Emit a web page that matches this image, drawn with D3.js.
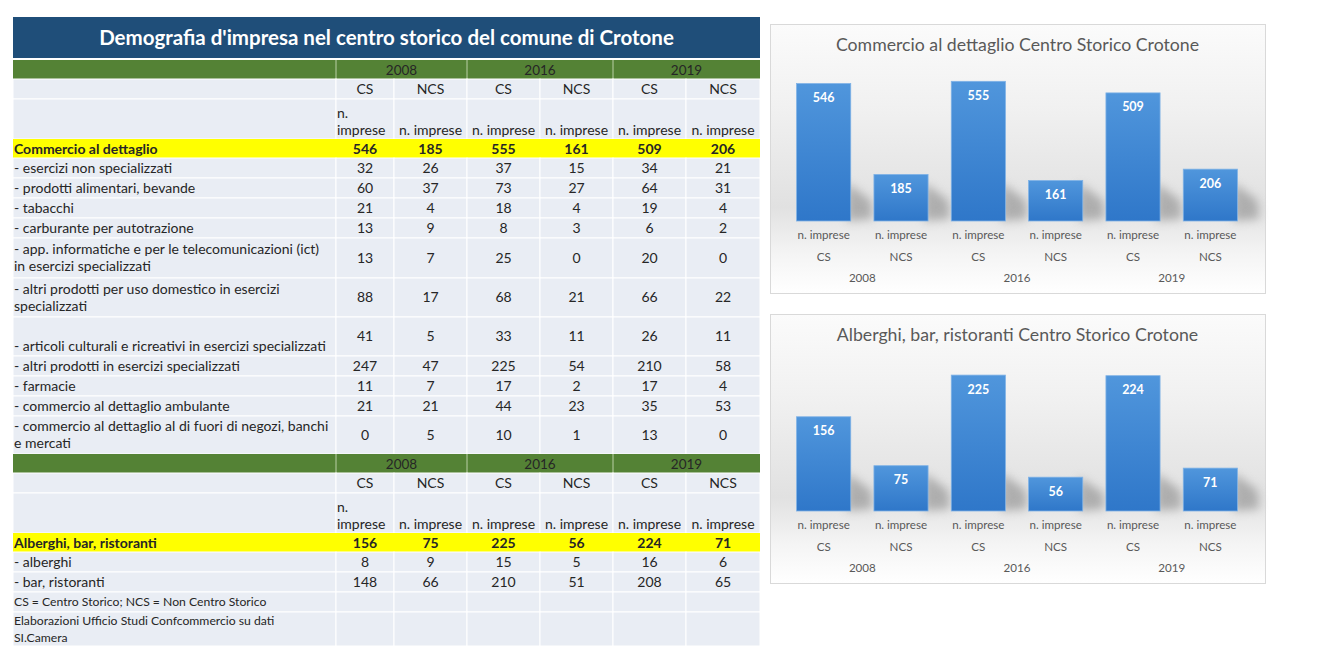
<!DOCTYPE html>
<html>
<head>
  <meta charset="utf-8">
  <title>Demografia d'impresa - Crotone</title>
  <script src="https://cdn.jsdelivr.net/npm/d3@7"></script>
  <style>
    body {margin: 0; background: #fff;}
    svg  {font-family: Lato, "DejaVu Sans", sans-serif; display: block;}
  </style>
</head>
<body>
  <svg width="1317" height="671"></svg>

  <script>
    // ---- data ----
    const years = ["2008", "2016", "2019"];
    const zones = ["CS", "NCS"];
    const unitLabel = "n. imprese";

    const retailName = "Commercio al dettaglio";
    const retailTotal = [546, 185, 555, 161, 509, 206];
    const retailLabels = [
      "- esercizi non specializzati",
      "- prodotti alimentari, bevande",
      "- tabacchi",
      "- carburante per autotrazione",
      "- app. informatiche e per le telecomunicazioni (ict)\nin esercizi specializzati",
      "- altri prodotti per uso domestico in esercizi\nspecializzati",
      "- articoli culturali e ricreativi in esercizi specializzati",
      "- altri prodotti in esercizi specializzati",
      "- farmacie",
      "- commercio al dettaglio ambulante",
      "- commercio al dettaglio al di fuori di negozi, banchi\ne mercati"
    ];
    const retailRows = [
      [32, 26, 37, 15, 34, 21],
      [60, 37, 73, 27, 64, 31],
      [21, 4, 18, 4, 19, 4],
      [13, 9, 8, 3, 6, 2],
      [13, 7, 25, 0, 20, 0],
      [88, 17, 68, 21, 66, 22],
      [41, 5, 33, 11, 26, 11],
      [247, 47, 225, 54, 210, 58],
      [11, 7, 17, 2, 17, 4],
      [21, 21, 44, 23, 35, 53],
      [0, 5, 10, 1, 13, 0]
    ];

    const hotelName = "Alberghi, bar, ristoranti";
    const hotelTotal = [156, 75, 225, 56, 224, 71];
    const hotelLabels = ["- alberghi", "- bar, ristoranti"];
    const hotelRows = [
      [8, 9, 15, 5, 16, 6],
      [148, 66, 210, 51, 208, 65]
    ];

    const notes = [
      "CS = Centro Storico; NCS = Non Centro Storico",
      "Elaborazioni Ufficio Studi Confcommercio su dati\nSI.Camera"
    ];

    const tableTitle = "Demografia d'impresa nel centro storico del comune di Crotone";
    const retailChartTitle = "Commercio al dettaglio Centro Storico Crotone";
    const hotelChartTitle = "Alberghi, bar, ristoranti Centro Storico Crotone";

    // ---- layout ----
    const svg = d3.select("svg");
    const colX = [13, 336, 394, 467, 540, 613, 686, 760];
    const cellBg = "#e9edf4", ink = "#262626";
    const fs = 14;   // table body font size
    const retailHeights = [20, 20, 20, 20, 40, 39, 39, 20, 20, 20, 38];
    const hotelHeights = [20, 20];

    const table = svg.append("g");

    // title bar
    table.append("rect").attr("x", colX[0]).attr("y", 17)
      .attr("width", colX[7] - colX[0]).attr("height", 41).attr("fill", "#1f4e79");
    table.append("text").attr("x", (colX[0] + colX[7]) / 2).attr("y", 45)
      .attr("text-anchor", "middle").attr("fill", "#fff")
      .style("font-size", "20.5px").style("font-weight", "bold").text(tableTitle);

    function multiText(g, x, yMid, str, anchor, size, weight, lh) {
      const lines = str.split("\n");
      const t = g.append("text").attr("x", x).attr("text-anchor", anchor)
        .attr("fill", ink).style("font-size", size + "px").style("font-weight", weight);
      lines.forEach((l, i) => {
        t.append("tspan").attr("x", x)
          .attr("y", yMid + (i - (lines.length - 1) / 2) * lh + size * 0.35)
          .text(l);
      });
    }

    function cells(y, h, fill, stroke) {
      for (let c = 0; c < 7; c++) {
        table.append("rect").attr("x", colX[c]).attr("y", y)
          .attr("width", colX[c + 1] - colX[c]).attr("height", h)
          .attr("fill", fill).attr("stroke", stroke).attr("stroke-width", 1);
      }
    }

    function section(y, name, total, labels, rows, heights) {
      // year header
      table.append("rect").attr("x", colX[0]).attr("y", y)
        .attr("width", colX[7] - colX[0]).attr("height", 19).attr("fill", "#548235");
      years.forEach((yr, i) => {
        const x0 = colX[1 + i * 2], x1 = colX[3 + i * 2];
        table.append("line").attr("x1", x0).attr("x2", x0).attr("y1", y).attr("y2", y + 19)
          .attr("stroke", "#b9cfa6");
        table.append("text").attr("x", (x0 + x1) / 2).attr("y", y + 14.5)
          .attr("text-anchor", "middle").attr("fill", ink).style("font-size", "13.5px").text(yr);
      });
      y += 19;

      // CS / NCS row
      cells(y, 20, cellBg, "#fff");
      years.forEach((yr, i) => zones.forEach((z, j) => {
        const c = 1 + i * 2 + j;
        multiText(table, (colX[c] + colX[c + 1]) / 2, y + 10, z, "middle", fs, "normal", 17);
      }));
      y += 20;

      // unit row
      cells(y, 40, cellBg, "#fff");
      for (let c = 1; c < 7; c++) {
        const w = colX[c + 1] - colX[c];
        if (w < 65) {
          multiText(table, colX[c] + 1, y + 23, unitLabel.replace(" ", "\n"), "start", fs, "normal", 17);
        } else {
          multiText(table, (colX[c] + colX[c + 1]) / 2, y + 31.5, unitLabel, "middle", fs, "normal", 17);
        }
      }
      y += 40;

      // total row
      table.append("rect").attr("x", colX[0]).attr("y", y)
        .attr("width", colX[7] - colX[0]).attr("height", 19).attr("fill", "#ffff00");
      multiText(table, colX[0] + 1, y + 10, name, "start", fs, "bold", 17);
      total.forEach((v, i) => multiText(table, (colX[i + 1] + colX[i + 2]) / 2, y + 10,
        String(v), "middle", fs, "bold", 17));
      y += 19;

      // detail rows
      rows.forEach((vals, r) => {
        const h = heights[r];
        cells(y, h, cellBg, "#fff");
        const lab = labels[r];
        const oneLine = lab.indexOf("\n") < 0;
        const labMid = (oneLine && h > 25) ? y + h - 10 : y + h / 2;
        multiText(table, colX[0] + 1, labMid, lab, "start", fs, "normal", 17);
        vals.forEach((v, i) => multiText(table, (colX[i + 1] + colX[i + 2]) / 2, y + h / 2,
          String(v), "middle", fs, "normal", 17));
        y += h;
      });
      return y;
    }

    let yEnd = section(60, retailName, retailTotal, retailLabels, retailRows, retailHeights);
    yEnd = section(yEnd, hotelName, hotelTotal, hotelLabels, hotelRows, hotelHeights);

    // notes
    const noteHeights = [20, 34];
    notes.forEach((n, i) => {
      cells(yEnd, noteHeights[i], cellBg, "#fff");
      multiText(table, colX[0] + 1, yEnd + noteHeights[i] / 2, n, "start", 12.2, "normal", 17);
      yEnd += noteHeights[i];
    });

    // ---- charts ----
    const defs = svg.append("defs");
    const bg = defs.append("linearGradient").attr("id", "chartBg")
      .attr("x1", 0).attr("x2", 0).attr("y1", 0).attr("y2", 1);
    [[0, "#fbfbfb"], [0.3, "#f1f1f1"], [0.68, "#e1e1e1"], [0.85, "#f4f4f4"], [1, "#ffffff"]]
      .forEach(s => bg.append("stop").attr("offset", s[0]).attr("stop-color", s[1]));
    const barGrad = defs.append("linearGradient").attr("id", "barFill")
      .attr("x1", 0).attr("x2", 0).attr("y1", 0).attr("y2", 1);
    [[0, "#5096dc"], [1, "#2f77c9"]]
      .forEach(s => barGrad.append("stop").attr("offset", s[0]).attr("stop-color", s[1]));
    defs.append("filter").attr("id", "soft").attr("x", "-50%").attr("y", "-50%")
      .attr("width", "200%").attr("height", "200%")
      .append("feGaussianBlur").attr("stdDeviation", 5);

    const keys = years.flatMap(yr => zones.map(z => yr + "-" + z));

    function drawChart(top, title, values, maxV) {
      const left = 770, w = 495, h = 269;
      const base = top + 197;
      const g = svg.append("g");
      g.append("rect").attr("x", left + 0.5).attr("y", top + 0.5).attr("width", w).attr("height", h)
        .attr("fill", "url(#chartBg)").attr("stroke", "#d9d9d9");
      g.append("text").attr("x", left + w / 2).attr("y", top + 27).attr("text-anchor", "middle")
        .attr("fill", "#595959").style("font-size", "17.7px").text(title);

      const x = d3.scaleBand().domain(keys).range([785, 1249]).paddingInner(0.3).paddingOuter(0.15);
      const y = d3.scaleLinear().domain([0, maxV]).range([base, top + 46]);

      const data = keys.map((k, i) => ({key: k, value: values[i]}));

      // soft floor shadows
      g.selectAll(".shadow").data(data).join("path").attr("class", "shadow")
        .attr("d", d => {
          const x1 = x(d.key) + x.bandwidth();
          const hh = Math.min(38, base - y(d.value));
          return `M${x1 - 4},${base} L${x1 - 4},${base - hh} L${x1 + 20},${base - hh * 0.55} L${x1 + 22},${base - 2} Z`;
        })
        .attr("fill", "#8c8c8c").attr("opacity", 0.6).attr("filter", "url(#soft)");

      g.selectAll(".bar").data(data).join("rect").attr("class", "bar")
        .attr("x", d => x(d.key)).attr("width", x.bandwidth())
        .attr("y", d => y(d.value)).attr("height", d => base - y(d.value))
        .attr("fill", "url(#barFill)").attr("stroke", "#7fb2e6").attr("stroke-width", 0.8);

      g.selectAll(".val").data(data).join("text").attr("class", "val")
        .attr("x", d => x(d.key) + x.bandwidth() / 2).attr("y", d => y(d.value) + 18.5)
        .attr("text-anchor", "middle").attr("fill", "#fff")
        .style("font-size", "12.5px").style("font-weight", "bold").text(d => d.value);

      const ax = g.append("g").attr("transform", `translate(0,${base})`)
        .call(d3.axisBottom(x).tickSize(0).tickPadding(10).tickFormat(() => unitLabel));
      ax.select(".domain").remove();
      ax.selectAll("text").attr("fill", "#595959").style("font-size", "11.6px")
        .style("font-family", "Lato, sans-serif");

      g.selectAll(".zone").data(data).join("text").attr("class", "zone")
        .attr("x", d => x(d.key) + x.bandwidth() / 2).attr("y", base + 40)
        .attr("text-anchor", "middle").attr("fill", "#595959").style("font-size", "11.6px")
        .text(d => d.key.split("-")[1]);

      g.selectAll(".year").data(years).join("text").attr("class", "year")
        .attr("x", yr => (x(yr + "-" + zones[0]) + x(yr + "-" + zones[1]) + x.bandwidth()) / 2)
        .attr("y", base + 61).attr("text-anchor", "middle").attr("fill", "#595959")
        .style("font-size", "11.6px").text(yr => yr);
    }

    drawChart(24, retailChartTitle, retailTotal, 600);
    drawChart(314, hotelChartTitle, hotelTotal, 250);
  </script>
</body>
</html>
